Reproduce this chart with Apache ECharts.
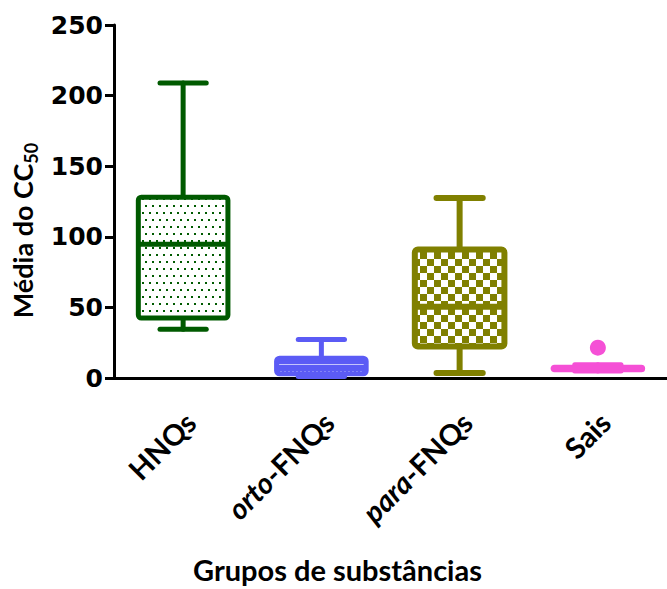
<!DOCTYPE html>
<html><head><meta charset="utf-8">
<script src="https://cdn.jsdelivr.net/npm/echarts@6/dist/echarts.min.js"></script>
<style>html,body{margin:0;padding:0;background:#fff}#c{width:667px;height:589px}</style>
</head><body><div id="c"></div>
<script>
// ---- data ----
const categories = ['HNQs', 'orto-FNQs', 'para-FNQs', 'Sais'];
const whiskerMin = [34.5, 1, 3.6, 5];
const q1 = [42.5, 3, 22.3, 5.8];
const median = [94.7, 8, 50.5, 7];
const q3 = [128, 14, 91, 7.7];
const whiskerMax = [209, 27.3, 127.5, 9.3];
const outlierCat = [3];
const outlierVal = [21.5];
const yMin = 0, yMax = 250, yStep = 50;
const xTitle = 'Grupos de substâncias';
const yTitleMain = 'Média do CC';
const yTitleSub = '50';

// ---- styles ----
const colors = ['#005a00', '#5b5bf5', '#808000', '#f550d6'];
const lineWidths = [5, 5, 6, 5];
const medianWidths = [5, 2, 6, 5];

function makeCanvas(w, h) { const c = document.createElement('canvas'); c.width = w; c.height = h; return c; }
function dotPattern(col) {
  const c = makeCanvas(7, 14), g = c.getContext('2d');
  g.fillStyle = '#fff'; g.fillRect(0, 0, 7, 14);
  g.fillStyle = col; g.fillRect(2, 2, 2, 2); g.fillRect(5, 9, 2, 2);
  return c;
}
function dashPattern(col) {
  const c = makeCanvas(4, 14), g = c.getContext('2d');
  g.fillStyle = col; g.fillRect(0, 0, 4, 14);
  g.fillStyle = '#c4c4fc'; g.fillRect(0, 0, 4, 1);
  g.fillStyle = '#fff'; g.fillRect(0, 7, 2, 1);
  return c;
}
function checkerPattern(col) {
  const c = makeCanvas(14, 14), g = c.getContext('2d');
  g.fillStyle = '#fff'; g.fillRect(0, 0, 14, 14);
  g.fillStyle = col; g.fillRect(0, 0, 7, 7); g.fillRect(7, 7, 7, 7);
  return c;
}
const patternImages = [dotPattern(colors[0]), dashPattern(colors[1]), checkerPattern(colors[2]), null];

const boxData = categories.map((c, i) => [i, whiskerMin[i], q1[i], median[i], q3[i], whiskerMax[i]]);
const outlierData = outlierCat.map((c, i) => [c, outlierVal[i]]);

function renderBox(params, api) {
  const i = params.dataIndex;
  const cx = api.coord([i, 0])[0];
  const band = api.size([1, 0])[0];
  const bw = band * 0.648, cw = bw * 0.516;
  const pMin = api.coord([i, api.value(1)])[1];
  const pQ1 = api.coord([i, api.value(2)])[1];
  const pMed = api.coord([i, api.value(3)])[1];
  const pQ3 = api.coord([i, api.value(4)])[1];
  const pMax = api.coord([i, api.value(5)])[1];
  const col = colors[i], lw = lineWidths[i];
  const ls = { stroke: col, lineWidth: lw, lineCap: 'round' };
  const img = patternImages[i];
  const fill = img ? { image: img, repeat: 'repeat', x: Math.round(cx - bw / 2), y: Math.round(pQ3 + lw / 2) } : col;
  return {
    type: 'group', children: [
      { type: 'line', shape: { x1: cx, y1: pMax, x2: cx, y2: pQ3 }, style: ls },
      { type: 'line', shape: { x1: cx, y1: pQ1, x2: cx, y2: pMin }, style: ls },
      { type: 'line', shape: { x1: cx - cw / 2, y1: pMax, x2: cx + cw / 2, y2: pMax }, style: ls },
      { type: 'line', shape: { x1: cx - cw / 2, y1: pMin, x2: cx + cw / 2, y2: pMin }, style: ls },
      { type: 'rect', shape: { x: cx - bw / 2, y: pQ3, width: bw, height: pQ1 - pQ3, r: 3 },
        style: { fill: fill, stroke: col, lineWidth: lw, lineJoin: 'round' } },
      { type: 'line', shape: { x1: cx - bw / 2, y1: pMed, x2: cx + bw / 2, y2: pMed }, style: { stroke: col, lineWidth: medianWidths[i] } }
    ]
  };
}

const labelFont = { fontFamily: 'Lato', fontWeight: 'bold', fontSize: 29, color: '#000' };
const chart = echarts.init(document.getElementById('c'), null, { renderer: 'svg' });
chart.setOption({
  animation: false,
  backgroundColor: '#fff',
  grid: { left: 114, right: -9, top: 25, bottom: 206, containLabel: false },
  xAxis: {
    type: 'category', data: categories, boundaryGap: true,
    axisLine: { lineStyle: { color: '#000', width: 3 } },
    axisTick: { alignWithLabel: true, length: 11, lineStyle: { color: '#000', width: 3 } },
    axisLabel: Object.assign({
      rotate: 45, margin: 32, padding: [20, 0, 0, 0], fontStyle: 'normal',
      formatter: function (v) {
        if (v.indexOf('orto') === 0) return '{i|orto}{n|-FNQs}';
        if (v.indexOf('para') === 0) return '{i|para}{n|-FNQs}';
        return '{n|' + v + '}';
      },
      rich: {
        i: Object.assign({}, labelFont, { fontStyle: 'italic' }),
        n: Object.assign({}, labelFont, { fontStyle: 'normal' })
      }
    }, labelFont),
    name: xTitle, nameLocation: 'middle', nameGap: 177,
    nameTextStyle: { color: '#000', fontFamily: 'Lato', fontWeight: 'bold', fontSize: 29, padding: [0, 106, 0, 0] },
    splitLine: { show: false }
  },
  yAxis: {
    type: 'value', min: yMin, max: yMax, interval: yStep,
    axisLine: { show: true, lineStyle: { color: '#000', width: 3 } },
    axisTick: { show: true, length: 9, lineStyle: { color: '#000', width: 3 } },
    axisLabel: { margin: 11, color: '#000', fontFamily: 'DejaVu Sans', fontWeight: 'bold', fontSize: 25, padding: [0, 0, 4, 0] },
    splitLine: { show: false },
    name: '{a|' + yTitleMain + '}{b|' + yTitleSub + '}',
    nameLocation: 'middle', nameRotate: 90, nameGap: 74,
    nameTextStyle: {
      padding: [0, 58, 0, 0],
      rich: {
        a: { fontFamily: 'Lato', fontWeight: 'bold', fontSize: 27, color: '#000', lineHeight: 34 },
        b: { fontFamily: 'Lato', fontWeight: 'bold', fontSize: 18, color: '#000', lineHeight: 17, verticalAlign: 'bottom' }
      }
    }
  },
  series: [
    { type: 'custom', renderItem: renderBox, data: boxData, encode: { x: 0, y: [1, 2, 3, 4, 5] }, clip: false, z: 2 },
    { type: 'scatter', data: outlierData, symbol: 'circle', symbolSize: 16, itemStyle: { color: colors[3], opacity: 1 }, z: 3 }
  ]
});
</script></body></html>
